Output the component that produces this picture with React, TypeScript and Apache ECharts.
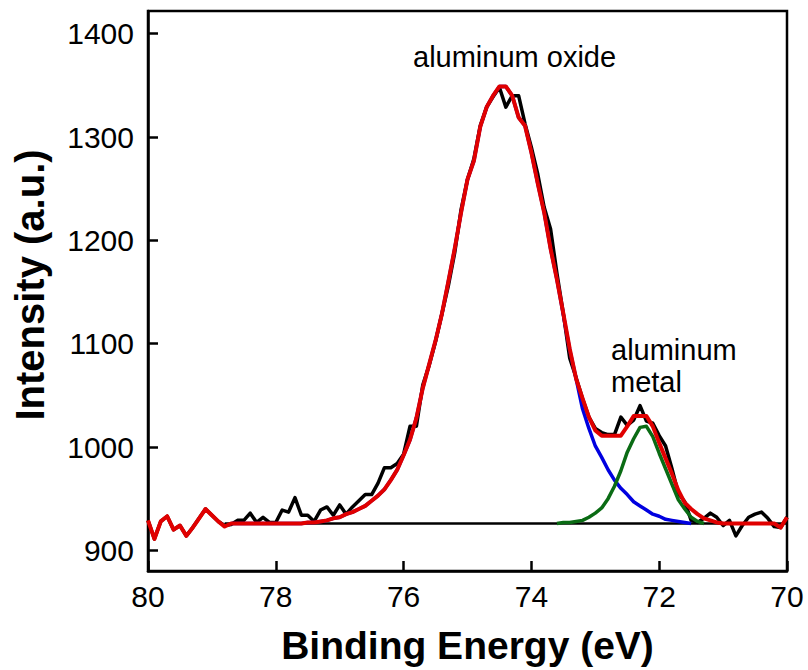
import React, { useEffect, useRef } from "react";
import * as echarts from "echarts";

// Binding energy (eV), 0.1 eV steps
const energies = [
  80.0, 79.9, 79.8, 79.7, 79.6, 79.5, 79.4, 79.3, 79.2, 79.1,
  79.0, 78.9, 78.8, 78.7, 78.6, 78.5, 78.4, 78.3, 78.2, 78.1,
  78.0, 77.9, 77.8, 77.7, 77.6, 77.5, 77.4, 77.3, 77.2, 77.1,
  77.0, 76.9, 76.8, 76.7, 76.6, 76.5, 76.4, 76.3, 76.2, 76.1,
  76.0, 75.9, 75.8, 75.7, 75.6, 75.5, 75.4, 75.3, 75.2, 75.1,
  75.0, 74.9, 74.8, 74.7, 74.6, 74.5, 74.4, 74.3, 74.2, 74.1,
  74.0, 73.9, 73.8, 73.7, 73.6, 73.5, 73.4, 73.3, 73.2, 73.1,
  73.0, 72.9, 72.8, 72.7, 72.6, 72.5, 72.4, 72.3, 72.2, 72.1,
  72.0, 71.9, 71.8, 71.7, 71.6, 71.5, 71.4, 71.3, 71.2, 71.1,
  71.0, 70.9, 70.8, 70.7, 70.6, 70.5, 70.4, 70.3, 70.2, 70.1,
  70.0,
];

// Measured intensity (black)
const measured = [
  929, 911, 928, 933, 920, 924, 914, 922, 931, 940,
  934, 928, 924, 925, 929, 929, 936, 927, 932, 927,
  927, 939, 937, 951, 934, 934, 928, 939, 942, 934,
  944, 935, 942, 948, 954, 954, 965, 980, 980, 984,
  993, 1020, 1020, 1060, 1079, 1102, 1129, 1156, 1188, 1230,
  1259, 1279, 1311, 1329, 1339, 1348, 1329, 1340, 1340, 1313,
  1290, 1264, 1232, 1211, 1168, 1129, 1086, 1067, 1047, 1029,
  1018, 1014, 1012, 1012, 1029, 1021, 1026, 1040, 1025, 1023,
  1011, 1001, 979, 955, 947, 929, 927, 931, 936, 932,
  924, 929, 914, 924, 932, 935, 937, 931, 923, 922,
  932,
];

// Fit envelope (red)
const envelope = [
  929, 911, 928, 933, 920, 924, 914, 922, 931, 940,
  934, 928, 923, 926, 926, 926, 926, 926, 926, 926,
  926, 926, 926, 926, 926, 927, 927, 928, 929, 931,
  932, 935, 937, 940, 943, 948, 953, 959, 968, 978,
  992, 1007, 1028, 1057, 1080, 1103, 1129, 1160, 1192, 1227,
  1259, 1277, 1310, 1329, 1340, 1349, 1349, 1340, 1319, 1311,
  1285, 1255, 1227, 1192, 1162, 1129, 1095, 1066, 1047, 1029,
  1016, 1011, 1011, 1011, 1011, 1020, 1030, 1030, 1030, 1020,
  1004, 989, 974, 958, 946, 940, 935, 931, 929, 927,
  926, 926, 926, 926, 926, 926, 926, 926, 926, 922,
  932,
];

// Aluminum oxide component (blue)
const oxide = [
  null, null, null, null, null, null, null, null, null, null,
  null, null, null, 926, 926, 926, 926, 926, 926, 926,
  926, 926, 926, 926, 926, 927, 927, 928, 929, 931,
  932, 935, 937, 940, 943, 948, 953, 959, 968, 978,
  992, 1007, 1028, 1057, 1080, 1103, 1129, 1160, 1192, 1227,
  1259, 1277, 1310, 1329, 1340, 1349, 1349, 1340, 1319, 1311,
  1285, 1255, 1227, 1192, 1162, 1128, 1094, 1066, 1037, 1018,
  1001, 990, 978, 968, 960, 954, 947, 943, 939, 935,
  933, 930, 929, 928, 927, 926, null, null, null, null,
  null, null, null, null, null, null, null, null, null, null,
  null,
];

// Aluminum metal component (green)
const metal = [
  null, null, null, null, null, null, null, null, null, null,
  null, null, null, null, null, null, null, null, null, null,
  null, null, null, null, null, null, null, null, null, null,
  null, null, null, null, null, null, null, null, null, null,
  null, null, null, null, null, null, null, null, null, null,
  null, null, null, null, null, null, null, null, null, null,
  null, null, null, null, 926, 927, 927, 928, 929, 932,
  936, 941, 950, 962, 977, 995, 1008, 1019, 1020, 1010,
  994, 979, 964, 949, 940, 932, 928, 926, null, null,
  null, null, null, null, null, null, null, null, null, null,
  null,
];

// Linear background
const baselineEnergies = [78.8, 70.0];
const baselineValues = [926, 926];

const xTicks = [70, 72, 74, 76, 78, 80];

const FONT = "'Liberation Sans', Arial, Helvetica, sans-serif";

export default function App() {
  const ref = useRef<HTMLDivElement>(null);

  useEffect(() => {
    const el = ref.current;
    if (!el) return;
    const chart = echarts.init(el, null, { renderer: "svg" });

    const pairs = (vals: (number | null)[]) =>
      energies
        .map((e, i) => [e, vals[i]])
        .filter((p) => p[1] !== null && p[1] !== undefined);

    const lineSeries = (name: string, data: any[], color: string, width: number, z: number) => ({
      name,
      type: "line",
      data,
      showSymbol: false,
      symbol: "none",
      smooth: false,
      z,
      lineStyle: { color, width, join: "round" },
      emphasis: { disabled: true },
    });

    const label = (text: string, x: number, y: number) => ({
      type: "text",
      x,
      y,
      style: {
        text,
        fill: "#000",
        fontSize: 29,
        fontFamily: FONT,
        textAlign: "left",
        textVerticalAlign: "middle",
      },
    });

    chart.setOption({
      animation: false,
      backgroundColor: "#ffffff",
      textStyle: { fontFamily: FONT },
      grid: {
        left: 148,
        right: 21,
        top: 11,
        bottom: 97,
        show: true,
        borderColor: "#000",
        borderWidth: 2.5,
        containLabel: false,
      },
      xAxis: {
        type: "value",
        min: xTicks[0],
        max: xTicks[xTicks.length - 1],
        interval: 2,
        inverse: true,
        axisLine: { show: true, lineStyle: { color: "#000", width: 2.5 } },
        axisTick: { show: true, inside: true, length: 10, lineStyle: { color: "#000", width: 2.5 } },
        axisLabel: { fontSize: 30, color: "#000", margin: 10, fontFamily: FONT },
        splitLine: { show: false },
        name: "Binding Energy (eV)",
        nameLocation: "middle",
        nameGap: 55,
        nameTextStyle: { fontSize: 39, fontWeight: "bold", color: "#000", fontFamily: FONT },
      },
      yAxis: {
        type: "value",
        min: 880,
        max: 1422,
        splitNumber: 5,
        axisLine: { show: true, lineStyle: { color: "#000", width: 2.5 } },
        axisTick: { show: true, inside: true, length: 10, lineStyle: { color: "#000", width: 2.5 } },
        axisLabel: {
          fontSize: 30,
          color: "#000",
          margin: 14,
          fontFamily: FONT,
          showMinLabel: false,
          showMaxLabel: false,
          formatter: (v: number) => (v % 100 === 0 ? String(v) : ""),
        },
        splitLine: { show: false },
      },
      series: [
        lineSeries("Measured", pairs(measured), "#000000", 3.5, 2),
        lineSeries(
          "Background",
          baselineEnergies.map((e, i) => [e, baselineValues[i]]),
          "#000000",
          2.5,
          3
        ),
        lineSeries("Aluminum oxide", pairs(oxide), "#0000e0", 3.5, 4),
        lineSeries("Aluminum metal", pairs(metal), "#0a6b14", 3.5, 5),
        lineSeries("Fit", pairs(envelope), "#e00000", 4, 6),
      ],
      graphic: [
        label("aluminum oxide", 413, 57),
        label("aluminum", 611, 350),
        label("metal", 611, 382),
        {
          type: "text",
          x: 30,
          y: 285,
          rotation: Math.PI / 2,
          style: {
            text: "Intensity (a.u.)",
            fill: "#000",
            fontSize: 40,
            fontWeight: "bold",
            fontFamily: FONT,
            textAlign: "center",
            textVerticalAlign: "middle",
          },
        },
      ],
    });

    return () => {
      chart.dispose();
    };
  }, []);

  return (
    <div
      ref={ref}
      style={{ position: "fixed", left: 0, top: 0, width: 808, height: 670, background: "#fff" }}
    />
  );
}
